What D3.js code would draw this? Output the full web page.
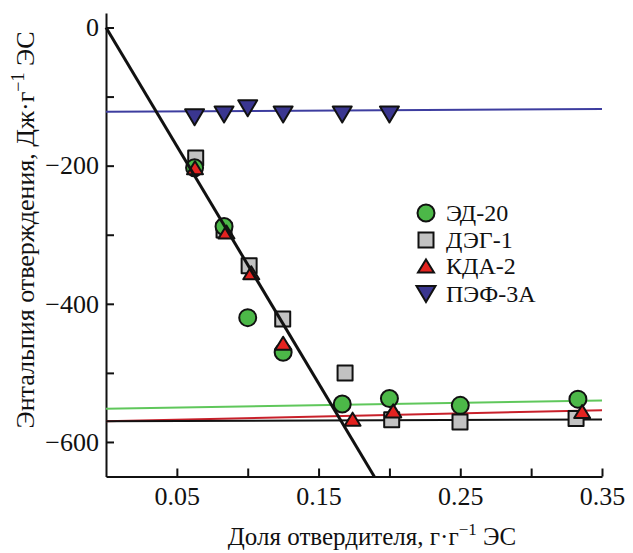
<!DOCTYPE html>
<html>
<head>
<meta charset="utf-8">
<script src="https://cdn.jsdelivr.net/npm/d3@7"></script>
<style>
  body { margin: 0; background: #fff; }
  text { font-family: "Liberation Serif", "Times New Roman", serif; fill: #111; }
</style>
</head>
<body>
<div id="chart"></div>
<script>
// x positions (hardener fraction, g/g ES) and enthalpies (J/g ES)
const xED = [0.0625, 0.0833, 0.1, 0.125, 0.1667, 0.2, 0.25, 0.333];
const yED = [-203, -288, -420, -470, -545, -537, -547, -538];

const xDEG = [0.0633, 0.0833, 0.101, 0.1247, 0.1687, 0.2016, 0.2498, 0.3317];
const yDEG = [-189, -293, -345, -422, -500, -568, -571, -566];

const xKDA = [0.0628, 0.085, 0.1025, 0.125, 0.174, 0.2027, 0.336];
const yKDA = [-203, -296, -355, -457, -567, -555, -556];

const xPEF = [0.0625, 0.0833, 0.1, 0.125, 0.1667, 0.2];
const yPEF = [-130, -126, -117, -126, -126, -126];

// fitted lines (endpoints)
const fitX = [0, 0.35];
const fitED = [-552, -540];
const fitKDA = [-570, -554];
const fitDEG = [-570, -567.5];
const fitPEF = [-122, -118];
const steepX = [0, 0.1893];
const steepY = [0, -650];

const xTicks = [0.05, 0.1, 0.15, 0.2, 0.25, 0.3, 0.35];
const xLabels = [0.05, 0.15, 0.25, 0.35];
const yTicks = [0, -100, -200, -300, -400, -500, -600];
const yLabels = [0, -200, -400, -600];

const legendNames = ["ЭД-20", "ДЭГ-1", "КДА-2", "ПЭФ-3А"];

const W = 633, H = 553;
const svg = d3.select("#chart").append("svg")
  .attr("width", W)
  .attr("height", H)
  .style("background", "#fff");

const xScale = d3.scaleLinear().domain([0, 0.35]).range([106, 602]);
const yScale = d3.scaleLinear().domain([-650, 21]).range([476.5, 13]);

const line = d3.line().x(d => xScale(d[0])).y(d => yScale(d[1]));

// symbols
function triUp(w, h) {
  return `M0,${-h / 2}L${w / 2},${h / 2}L${-w / 2},${h / 2}Z`;
}
function triDown(w, h) {
  return `M${-w / 2},${-h / 2}L${w / 2},${-h / 2}L0,${h / 2}Z`;
}
function square(s) {
  return `M${-s / 2},${-s / 2}h${s}v${s}h${-s}Z`;
}
function circle(r) {
  return `M${r},0A${r},${r},0,1,1,${-r},0A${r},${r},0,1,1,${r},0Z`;
}

const series = {
  ED: { fill: "#4cb848", path: circle(8.5) },
  DEG: { fill: "#c2c2c2", path: square(15) },
  KDA: { fill: "#e42320", path: triUp(16, 13) },
  PEF: { fill: "#3a3690", path: triDown(19, 16) }
};

// axes
const xAxis = d3.axisBottom(xScale)
  .tickValues(xTicks)
  .tickSize(-8)
  .tickSizeOuter(0)
  .tickPadding(10)
  .tickFormat(d => xLabels.some(v => Math.abs(v - d) < 1e-9) ? d3.format(".2f")(d) : "");

const yAxis = d3.axisLeft(yScale)
  .tickValues(yTicks)
  .tickSize(-8)
  .tickSizeOuter(0)
  .tickPadding(7)
  .tickFormat(d => yLabels.includes(d) ? d3.format("d")(d) : "");

const gx = svg.append("g")
  .attr("transform", `translate(0,${yScale.range()[0]})`)
  .call(xAxis);
const gy = svg.append("g")
  .attr("transform", `translate(${xScale.range()[0]},0)`)
  .call(yAxis);

[gx, gy].forEach(g => {
  g.select(".domain").attr("stroke", "#111").attr("stroke-width", 2);
  g.selectAll(".tick line").attr("stroke", "#111").attr("stroke-width", 2);
  g.selectAll(".tick text")
    .attr("fill", "#111")
    .style("font-family", "'Liberation Serif', serif")
    .style("font-size", "26px");
});

// horizontal fit lines (under markers)
const fits = [
  { y: fitED, color: "#5fc75b" },
  { y: fitKDA, color: "#c8202a" },
  { y: fitDEG, color: "#111" },
  { y: fitPEF, color: "#3d3d9f" }
];
svg.append("g").selectAll("path")
  .data(fits)
  .enter()
  .append("path")
  .attr("d", f => line(fitX.map((x, i) => [x, f.y[i]])))
  .attr("fill", "none")
  .attr("stroke", f => f.color)
  .attr("stroke-width", 2);

function drawPoints(xs, ys, s) {
  svg.append("g").selectAll("path")
    .data(xs.map((x, i) => [x, ys[i]]))
    .enter()
    .append("path")
    .attr("transform", d => `translate(${xScale(d[0])},${yScale(d[1])})`)
    .attr("d", s.path)
    .attr("fill", s.fill)
    .attr("stroke", "#111")
    .attr("stroke-width", 2)
    .attr("stroke-linejoin", "round");
}

drawPoints(xDEG, yDEG, series.DEG);
drawPoints(xED, yED, series.ED);
drawPoints(xKDA, yKDA, series.KDA);
drawPoints(xPEF, yPEF, series.PEF);

// steep line on top
svg.append("path")
  .attr("d", line(steepX.map((x, i) => [x, steepY[i]])))
  .attr("fill", "none")
  .attr("stroke", "#111")
  .attr("stroke-width", 3);

// legend
const legendKeys = ["ED", "DEG", "KDA", "PEF"];
const legendY = [213, 240, 266, 294];
const legend = svg.append("g");
legendKeys.forEach((k, i) => {
  legend.append("path")
    .attr("transform", `translate(426,${legendY[i]})`)
    .attr("d", series[k].path)
    .attr("fill", series[k].fill)
    .attr("stroke", "#111")
    .attr("stroke-width", 2);
  legend.append("text")
    .attr("x", 446)
    .attr("y", legendY[i])
    .attr("dy", "0.35em")
    .style("font-size", "24px")
    .text(legendNames[i]);
});

// axis titles
const xt = svg.append("text")
  .attr("x", 372)
  .attr("y", 545)
  .attr("text-anchor", "middle")
  .style("font-size", "25px");
xt.append("tspan").text("Доля отвердителя, г·г");
xt.append("tspan").attr("dy", -10).style("font-size", "17px").text("−1");
xt.append("tspan").attr("dy", 10).text(" ЭС");

const yt = svg.append("text")
  .attr("transform", "translate(34,230) rotate(-90)")
  .attr("text-anchor", "middle")
  .style("font-size", "26px");
yt.append("tspan").text("Энтальпия отверждения, Дж·г");
yt.append("tspan").attr("dy", -10).style("font-size", "18px").text("−1");
yt.append("tspan").attr("dy", 10).text(" ЭС");
</script>
</body>
</html>
